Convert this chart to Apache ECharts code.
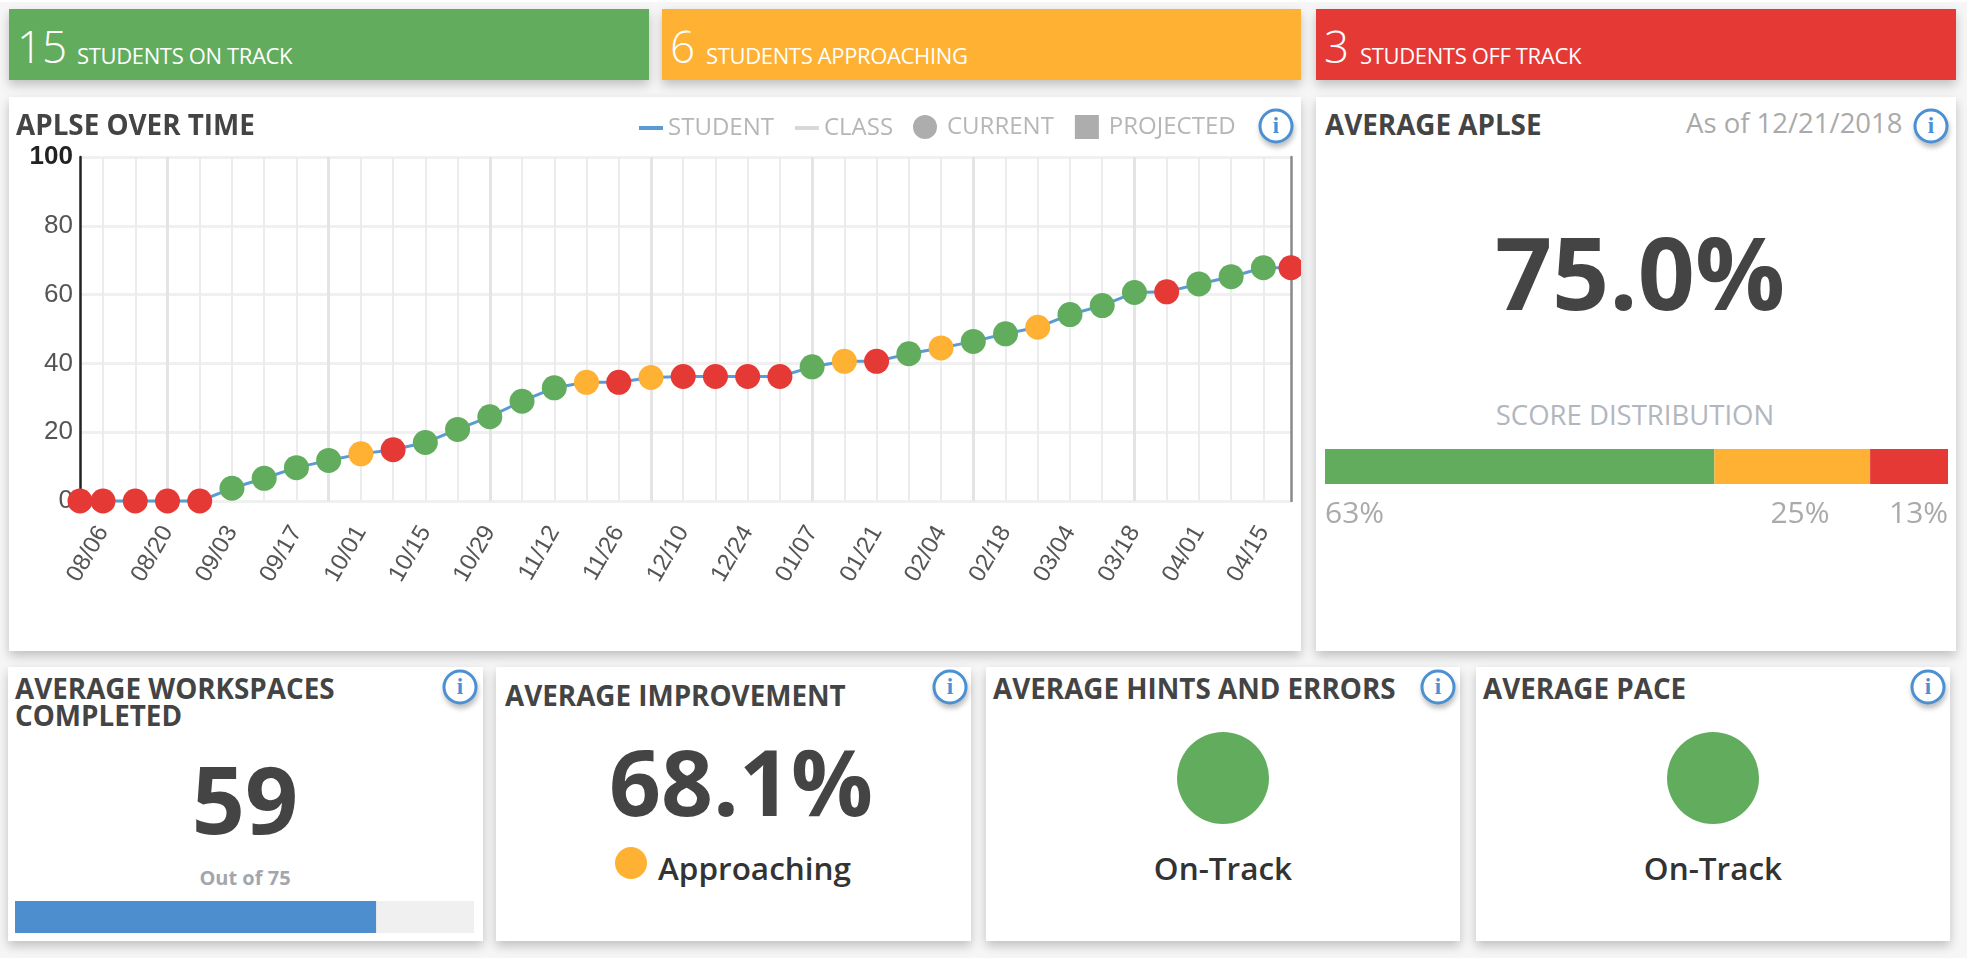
<!DOCTYPE html>
<html>
<head>
<meta charset="utf-8">
<title>APLSE dashboard</title>
<script src="https://cdn.jsdelivr.net/npm/echarts@6/dist/echarts.min.js"></script>
<style>
    html, body { margin: 0; padding: 0; width: 1967px; height: 960px; overflow: hidden; background: #fff; }
    #page { position: absolute; left: 0; top: 2px; width: 1967px; height: 956px; background: #f6f6f6; font-family: "Open Sans", sans-serif; }
    .box { position: absolute; box-sizing: border-box; box-shadow: 0 5px 10px rgba(0, 0, 0, .22); }
    .card { background: #fff; }
    .abs { position: absolute; white-space: nowrap; line-height: 1; }
    .banner { color: #fff; }
    .banner .num { position: absolute; left: 8px; top: 13px; font-size: 44px; font-weight: 300; line-height: 1.1; }
    .banner .txt { position: absolute; bottom: 14px; font-size: 22px; letter-spacing: -.35px; line-height: 1; }
    .title { font-weight: 700; font-size: 27.8px; color: #444; line-height: 27px; }
    .big { font-weight: 700; color: #444; transform: translateX(-50%); }
    .status { font-weight: 600; font-size: 31.5px; color: #333; }
    .dot { position: absolute; border-radius: 50%; transform: translate(-50%, -50%); }
    .info { position: absolute; width: 35px; height: 35px; box-sizing: border-box; border: 3px solid #4a90d2; border-radius: 50%; background: #fff;
            color: #4a90d2; font: bold 23px/28px "Liberation Serif", serif; text-align: center; box-shadow: 1px 4px 5px rgba(0, 0, 0, .25); transform: translate(-50%, -50%); z-index: 5; }
    .chart { position: absolute; }
</style>
</head>
<body>
<div id="page"></div>
<script>
// 周次日期 / APLSE 值 / 每个点的状态
const pointDates = ['2018-08-01', '2018-08-06', '2018-08-13', '2018-08-20', '2018-08-27', '2018-09-03', '2018-09-10', '2018-09-17', '2018-09-24',
    '2018-10-01', '2018-10-08', '2018-10-15', '2018-10-22', '2018-10-29', '2018-11-05', '2018-11-12', '2018-11-19', '2018-11-26',
    '2018-12-03', '2018-12-10', '2018-12-17', '2018-12-24', '2018-12-31', '2019-01-07', '2019-01-14', '2019-01-21', '2019-01-28',
    '2019-02-04', '2019-02-11', '2019-02-18', '2019-02-25', '2019-03-04', '2019-03-11', '2019-03-18', '2019-03-25',
    '2019-04-01', '2019-04-08', '2019-04-15', '2019-04-21'];
const aplseValues = [0, 0, 0, 0, 0, 3.7, 6.6, 9.7, 11.8,
    13.7, 14.9, 17, 20.8, 24.5, 29, 32.9, 34.5, 34.5,
    35.9, 36.2, 36.2, 36.2, 36.2, 39, 40.6, 40.6, 42.8,
    44.5, 46.4, 48.6, 50.5, 54.2, 56.8, 60.6, 60.8,
    63.1, 65.2, 67.8, 67.8];
const pointStatus = ['off', 'off', 'off', 'off', 'off', 'on', 'on', 'on', 'on',
    'near', 'off', 'on', 'on', 'on', 'on', 'on', 'near', 'off',
    'near', 'off', 'off', 'off', 'off', 'on', 'near', 'off', 'on',
    'near', 'on', 'on', 'near', 'on', 'on', 'on', 'off',
    'on', 'on', 'on', 'off'];
const labelDates = ['2018-08-06', '2018-08-20', '2018-09-03', '2018-09-17', '2018-10-01', '2018-10-15', '2018-10-29', '2018-11-12', '2018-11-26',
    '2018-12-10', '2018-12-24', '2019-01-07', '2019-01-21', '2019-02-04', '2019-02-18', '2019-03-04', '2019-03-18', '2019-04-01', '2019-04-15'];
const majorGridDates = ['2018-08-20', '2018-09-24', '2018-10-29', '2018-12-03', '2019-01-07', '2019-02-11', '2019-03-18'];
const axisStart = '2018-08-01';
const axisEnd = '2019-04-21';

const distStudents = [15, 6, 3];
const distLabels = ['63%', '25%', '13%'];
const workspacesDone = 59;
const workspacesTotal = 75;

const colors = { on: '#62ac5e', near: '#feb132', off: '#e53935', line: '#5b9bd5' };

const ts = s => new Date(s + 'T00:00:00').getTime();

// 页面卡片
const page = document.getElementById('page');
function add(html) { page.insertAdjacentHTML('beforeend', html); }
function info(x, y) { add(`<div class="info" style="left:${x}px;top:${y}px">i</div>`); }

add(`
<div class="box banner" style="left:9px;top:7px;width:640px;height:71px;background:${colors.on}"><span class="num">15</span><span class="txt" style="left:68px">STUDENTS ON TRACK</span></div>
<div class="box banner" style="left:662px;top:7px;width:639px;height:71px;background:${colors.near}"><span class="num">6</span><span class="txt" style="left:44px">STUDENTS APPROACHING</span></div>
<div class="box banner" style="left:1316px;top:7px;width:640px;height:71px;background:${colors.off}"><span class="num">3</span><span class="txt" style="left:44px">STUDENTS OFF TRACK</span></div>

<div class="box card" style="left:9px;top:95px;width:1292px;height:554px"></div>
<div class="box card" style="left:1316px;top:95px;width:640px;height:554px"></div>
<div class="box card" style="left:8px;top:665px;width:475px;height:274px"></div>
<div class="box card" style="left:496px;top:665px;width:475px;height:274px"></div>
<div class="box card" style="left:986px;top:665px;width:474px;height:274px"></div>
<div class="box card" style="left:1476px;top:665px;width:474px;height:274px"></div>

<div id="lineChart" class="chart" style="left:9px;top:95px;width:1292px;height:554px"></div>
<div class="abs title" style="left:16px;top:109px">APLSE OVER TIME</div>

<div class="abs title" style="left:1325px;top:109px">AVERAGE APLSE</div>
<div class="abs" style="left:1686px;top:107px;font-size:27.5px;color:#aaa">As of 12/21/2018</div>
<div class="abs big" style="left:1640px;top:219px;font-size:100px">75.0%</div>
<div class="abs" style="left:1635px;top:399px;font-size:27.5px;color:#b2b6be;transform:translateX(-50%)">SCORE DISTRIBUTION</div>
<div id="distChart" class="chart" style="left:1325px;top:438px;width:623px;height:100px"></div>

<div class="abs title" style="left:15px;top:673px">AVERAGE WORKSPACES<br>COMPLETED</div>
<div class="abs big" style="left:245px;top:750px;font-size:93px">59</div>
<div class="abs" style="left:245px;top:866px;font-size:20px;font-weight:700;color:#a2a6ae;transform:translateX(-50%)">Out of 75</div>
<div id="workChart" class="chart" style="left:15px;top:899px;width:459px;height:32px"></div>

<div class="abs title" style="left:505px;top:680px">AVERAGE IMPROVEMENT</div>
<div class="abs big" style="left:741px;top:734px;font-size:91px">68.1%</div>
<div class="dot" style="left:631px;top:861px;width:32px;height:32px;background:${colors.near}"></div>
<div class="abs status" style="left:658px;top:850px">Approaching</div>

<div class="abs title" style="left:993px;top:673px">AVERAGE HINTS AND ERRORS</div>
<div class="dot" style="left:1223px;top:776px;width:92px;height:92px;background:${colors.on}"></div>
<div class="abs status" style="left:1223px;top:850px;transform:translateX(-50%)">On-Track</div>

<div class="abs title" style="left:1483px;top:673px">AVERAGE PACE</div>
<div class="dot" style="left:1713px;top:776px;width:92px;height:92px;background:${colors.on}"></div>
<div class="abs status" style="left:1713px;top:850px;transform:translateX(-50%)">On-Track</div>
`);
info(1276, 124); info(1931, 124); info(460, 685); info(950, 685); info(1438, 685); info(1928, 685);

// APLSE 折线图
const lineChart = echarts.init(document.getElementById('lineChart'));
const mmdd = v => {
    const d = new Date(v);
    return String(d.getMonth() + 1).padStart(2, '0') + '/' + String(d.getDate()).padStart(2, '0');
};
const weeklyTicks = pointDates.slice(1, -1).map(ts);

lineChart.setOption({
    animation: false,
    grid: { left: 71, top: 60, width: 1211, height: 344, containLabel: false },
    legend: [
        {
            left: 625, top: 14, itemWidth: 24, itemHeight: 4, itemGap: 21, icon: 'rect',
            textStyle: { fontFamily: 'Open Sans', fontSize: 24, color: '#b6b6b6' }, selectedMode: false,
            data: [{ name: 'STUDENT', itemStyle: { color: colors.line } }, { name: 'CLASS', itemStyle: { color: '#d8d8d8' } }]
        },
        {
            left: 899, top: 13, itemWidth: 24, itemHeight: 24, itemGap: 21,
            textStyle: { fontFamily: 'Open Sans', fontSize: 24, color: '#b6b6b6', padding: [2, 0, 0, 5] }, selectedMode: false,
            data: [
                { name: 'CURRENT', icon: 'circle', itemStyle: { color: '#999' } },
                { name: 'PROJECTED', icon: 'rect', itemStyle: { color: '#999' } }
            ]
        }
    ],
    xAxis: [
        {
            type: 'value', min: ts(axisStart), max: ts(axisEnd),
            axisLine: { show: false },
            axisTick: { show: false, customValues: weeklyTicks },
            splitLine: { show: true, lineStyle: { color: '#ececec', width: 2 } },
            axisLabel: {
                customValues: labelDates.map(ts), rotate: 60, margin: 27, hideOverlap: false,
                formatter: mmdd, fontFamily: 'Liberation Sans', fontSize: 24, color: '#555'
            }
        },
        {
            type: 'value', min: ts(axisStart), max: ts(axisEnd),
            axisLine: { show: false }, axisLabel: { show: false },
            axisTick: { show: false, customValues: majorGridDates.map(ts) },
            splitLine: { show: true, lineStyle: { color: '#e4e4e4', width: 3 } }
        }
    ],
    yAxis: [
        {
            type: 'value', min: 0, max: 100, interval: 20,
            axisLine: { show: true, lineStyle: { color: '#222', width: 2.5 } },
            axisTick: { show: false },
            splitLine: { show: true, lineStyle: { color: '#f0f0f0', width: 3 } },
            axisLabel: {
                margin: 7, fontFamily: 'Liberation Sans', fontSize: 26, color: '#555',
                formatter: v => (v === 100 ? '{top|100}' : String(v)),
                rich: { top: { fontFamily: 'Liberation Sans', fontSize: 26, fontWeight: 'bold', color: '#222' } }
            }
        },
        {
            type: 'value', min: 0, max: 100, interval: 20, position: 'right',
            axisLine: { show: true, lineStyle: { color: '#8a8a8a', width: 2.5 } },
            axisTick: { show: false }, splitLine: { show: false }, axisLabel: { show: false }
        }
    ],
    series: [
        {
            name: 'STUDENT', type: 'line', clip: false, z: 5,
            symbol: 'circle', symbolSize: 25,
            lineStyle: { color: colors.line, width: 3 },
            itemStyle: { color: colors.line },
            data: pointDates.map((d, i) => ({
                value: [ts(d), aplseValues[i]],
                itemStyle: { color: colors[pointStatus[i]] }
            }))
        },
        { name: 'CLASS', type: 'line', data: [], lineStyle: { color: '#d8d8d8' }, itemStyle: { color: '#d8d8d8' } },
        { name: 'CURRENT', type: 'scatter', data: [], itemStyle: { color: '#999' } },
        { name: 'PROJECTED', type: 'scatter', symbol: 'rect', data: [], itemStyle: { color: '#999' } }
    ]
});

// 分数分布条
const distChart = echarts.init(document.getElementById('distChart'));
const distColors = [colors.on, colors.near, colors.off];
const distLabelPos = [[0, 50], [56, 50], [78, 50]];
const distLabelAlign = ['left', 'left', 'right'];
distChart.setOption({
    animation: false,
    grid: { left: 0, right: 0, top: 9, height: 35 },
    xAxis: { type: 'value', min: 0, max: distStudents.reduce((a, b) => a + b, 0), show: false },
    yAxis: { type: 'category', data: ['Score'], show: false },
    series: distStudents.map((v, i) => ({
        name: distLabels[i], type: 'bar', stack: 'dist', barWidth: 35, data: [v],
        itemStyle: { color: distColors[i] },
        label: {
            show: true, formatter: distLabels[i], position: distLabelPos[i], align: distLabelAlign[i],
            fontFamily: 'Open Sans', fontSize: 30, color: '#aaa'
        }
    }))
});

// 工作区进度条
const workChart = echarts.init(document.getElementById('workChart'));
workChart.setOption({
    animation: false,
    grid: { left: 0, right: 0, top: 0, bottom: 0 },
    xAxis: { type: 'value', min: 0, max: workspacesTotal, show: false },
    yAxis: { type: 'category', data: ['Workspaces'], show: false },
    series: [{
        type: 'bar', barWidth: '100%', data: [workspacesDone],
        showBackground: true, backgroundStyle: { color: '#f0f0f0' },
        itemStyle: { color: '#4d8ecf' }
    }]
});
</script>
</body>
</html>
